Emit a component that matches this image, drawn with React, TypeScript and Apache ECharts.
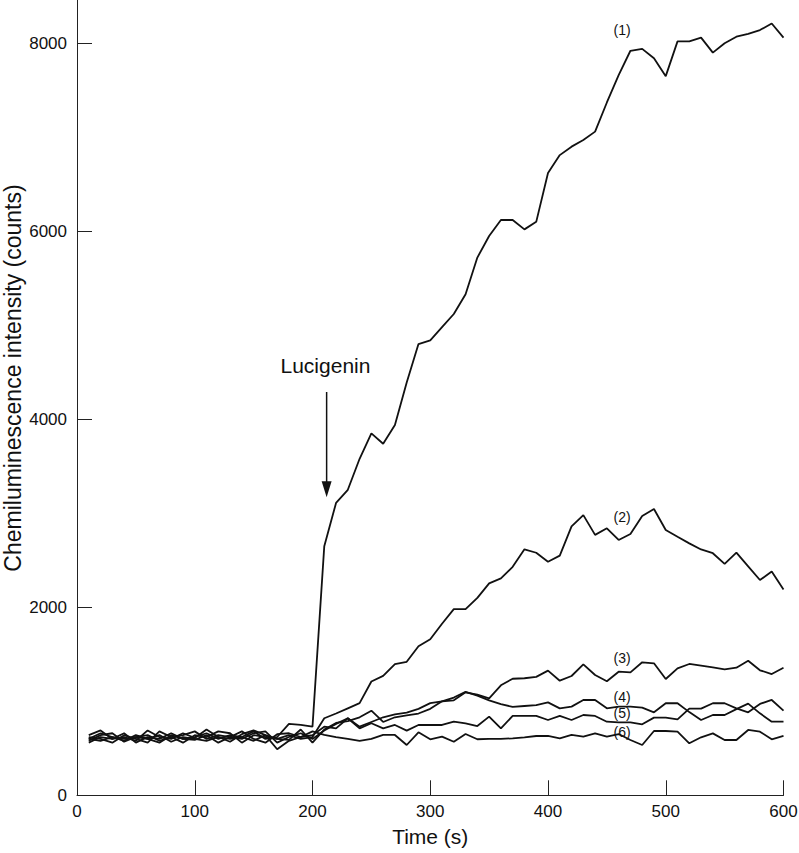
import React, { useEffect, useRef } from "react";
import * as echarts from "echarts";

const times = [
  10, 20, 30, 40, 50, 60, 70, 80, 90, 100, 110, 120, 130, 140, 150, 160, 170, 180, 190, 200,
  210, 220, 230, 240, 250, 260, 270, 280, 290, 300, 310, 320, 330, 340, 350, 360, 370, 380, 390, 400,
  410, 420, 430, 440, 450, 460, 470, 480, 490, 500, 510, 520, 530, 540, 550, 560, 570, 580, 590, 600,
];

const series1 = [
  600, 660, 620, 580, 640, 600, 560, 640, 600, 620, 660, 600, 640, 620, 680, 600, 620, 760, 750, 730,
  2650, 3110, 3250, 3580, 3850, 3740, 3940, 4390, 4800, 4840, 4980, 5120, 5330, 5720, 5950, 6120, 6120, 6020, 6100, 6620,
  6810, 6900, 6970, 7060, 7370, 7660, 7920, 7940, 7840, 7650, 8020, 8020, 8060, 7900, 8000, 8070, 8100, 8140, 8210, 8060,
];
const series2 = [
  640, 690, 600, 620, 580, 690, 620, 600, 660, 610, 700, 620, 570, 650, 690, 640, 600, 640, 600, 620,
  820, 870, 925, 980, 1210, 1270, 1395, 1420, 1585, 1660, 1825, 1980, 1980, 2100, 2255, 2308, 2430, 2617, 2580, 2485,
  2550, 2860, 2980, 2770, 2840, 2716, 2780, 2971, 3046, 2822, 2750, 2680, 2615, 2575, 2461, 2581, 2435, 2290, 2380, 2190,
];
const series3 = [
  580, 640, 660, 570, 620, 640, 580, 620, 640, 680, 600, 640, 620, 600, 660, 680, 560, 620, 660, 600,
  690, 760, 819, 730, 780, 830, 860, 880, 920, 980, 1000, 1010, 1095, 1070, 1032, 1170, 1240, 1245, 1260, 1326,
  1219, 1269, 1393, 1280, 1213, 1315, 1308, 1415, 1404, 1237, 1351, 1397, 1380, 1360, 1340, 1357, 1432, 1330, 1290, 1357,
];
const series4 = [
  620, 600, 560, 640, 600, 560, 680, 620, 560, 640, 620, 680, 660, 560, 640, 620, 600, 590, 700, 560,
  700, 770, 790, 830, 900, 780, 830, 850, 870, 920, 1000, 1040, 1100, 1060, 1010, 970, 940, 950, 960, 989,
  925, 943, 1014, 1014, 925, 943, 943, 932, 883, 979, 979, 885, 801, 854, 854, 917, 975, 872, 783, 783,
];
const series5 = [
  560, 620, 600, 660, 560, 620, 600, 660, 600, 590, 640, 560, 620, 680, 600, 560, 650, 660, 620, 640,
  730, 712, 819, 712, 766, 712, 748, 688, 748, 748, 748, 783, 766, 737, 837, 712, 844, 844, 844, 801,
  844, 801, 854, 844, 783, 776, 776, 755, 826, 826, 808, 922, 922, 979, 979, 925, 883, 972, 1014, 900,
];
const series6 = [
  600, 580, 620, 600, 620, 600, 640, 570, 620, 600, 580, 620, 600, 620, 580, 640, 490, 580, 620, 680,
  642, 620, 600, 580, 600, 642, 642, 535, 670, 596, 624, 570, 652, 596, 600, 600, 606, 617, 631, 631,
  606, 642, 624, 659, 624, 652, 588, 535, 684, 684, 677, 553, 617, 659, 588, 588, 695, 677, 596, 631,
];

const seriesNames = ["(1)", "(2)", "(3)", "(4)", "(5)", "(6)"];
const labelAnchors = [
  [463, 8140],
  [463, 2957],
  [463, 1457],
  [463, 1049],
  [463, 872],
  [463, 677],
];
const xTicks = [0, 100, 200, 300, 400, 500, 600];
const yTicks = [0, 2000, 4000, 6000, 8000];
const xTitle = "Time (s)";
const yTitle = "Chemiluminescence intensity (counts)";
const annotationText = "Lucigenin";
const annotationAt = [211, 4567];
const arrowFrom = [212, 4290];
const arrowTo = [212, 3170];

const FONT = "'Liberation Sans', Arial, Helvetica, sans-serif";

export default function App() {
  const ref = useRef<HTMLDivElement>(null);

  useEffect(() => {
    const chart = echarts.init(ref.current!, null, { renderer: "svg" });
    const all = [series1, series2, series3, series4, series5, series6];
    const lineSeries = all.map((vals, k) => ({
      type: "line",
      name: seriesNames[k],
      data: times.map((t, i) => [t, vals[i]]),
      symbol: "none",
      silent: true,
      lineStyle: { color: "#111", width: 1.8 },
      z: 2,
    }));

    chart.setOption({
      animation: false,
      grid: {
        left: 77,
        right: 15.5,
        top: 0,
        bottom: 57.7,
        containLabel: false,
        outerBoundsMode: "none",
      },
      xAxis: {
        type: "value",
        min: 0,
        max: 600,
        interval: 100,
        name: xTitle,
        nameLocation: "middle",
        nameGap: 31,
        nameTextStyle: { fontFamily: FONT, fontSize: 21, color: "#111" },
        axisLine: { lineStyle: { color: "#222", width: 1 } },
        axisTick: { inside: true, length: 15, customValues: xTicks, lineStyle: { color: "#222", width: 1 } },
        axisLabel: {
          customValues: xTicks,
          fontFamily: FONT,
          fontSize: 17,
          color: "#111",
          margin: 8,
          formatter: (v: number) => String(v),
        },
        splitLine: { show: false },
      },
      yAxis: {
        type: "value",
        min: 0,
        max: 8460,
        interval: 2000,
        axisLine: { lineStyle: { color: "#222", width: 1 } },
        axisTick: {
          inside: true,
          length: 15,
          customValues: yTicks,
          lineStyle: { color: "#222", width: 1 },
        },
        axisLabel: {
          customValues: yTicks,
          fontFamily: FONT,
          fontSize: 17,
          color: "#111",
          margin: 10,
          formatter: (v: number) => String(v),
        },
        splitLine: { show: false },
      },
      series: lineSeries,
    });

    const px = (p: number[]) => chart.convertToPixel({ gridIndex: 0 }, p) as number[];
    const p0 = px(arrowFrom);
    const p1 = px(arrowTo);
    const pa = px(annotationAt);
    const textStyle = (text: string, size: number) => ({
      text,
      fontFamily: FONT,
      fontSize: size,
      fill: "#111",
      align: "center",
      verticalAlign: "middle",
      textAlign: "center",
      textVerticalAlign: "middle",
    });
    const labelTexts = labelAnchors.map((a, i) => {
      const p = px(a);
      return {
        type: "text",
        x: p[0],
        y: p[1],
        silent: true,
        z: 10,
        style: textStyle(seriesNames[i], 14),
      };
    });

    chart.setOption({
      graphic: [
        {
          type: "line",
          shape: { x1: p0[0], y1: p0[1], x2: p1[0], y2: p1[1] - 12 },
          style: { stroke: "#111", lineWidth: 1.5 },
          silent: true,
        },
        {
          type: "polygon",
          shape: {
            points: [
              [p1[0] - 5, p1[1] - 16],
              [p1[0] + 5, p1[1] - 16],
              [p1[0], p1[1]],
            ],
          },
          style: { fill: "#111" },
          silent: true,
        },
        {
          type: "text",
          x: pa[0],
          y: pa[1],
          silent: true,
          z: 10,
          style: textStyle(annotationText, 21),
        },
        ...labelTexts,
        {
          type: "text",
          x: 13,
          y: 378,
          rotation: Math.PI / 2,
          silent: true,
          style: textStyle(yTitle, 23),
        },
      ],
    });

    return () => chart.dispose();
  }, []);

  return (
    <div
      ref={ref}
      style={{ position: "absolute", left: 0, top: 0, width: 799, height: 853 }}
    />
  );
}
